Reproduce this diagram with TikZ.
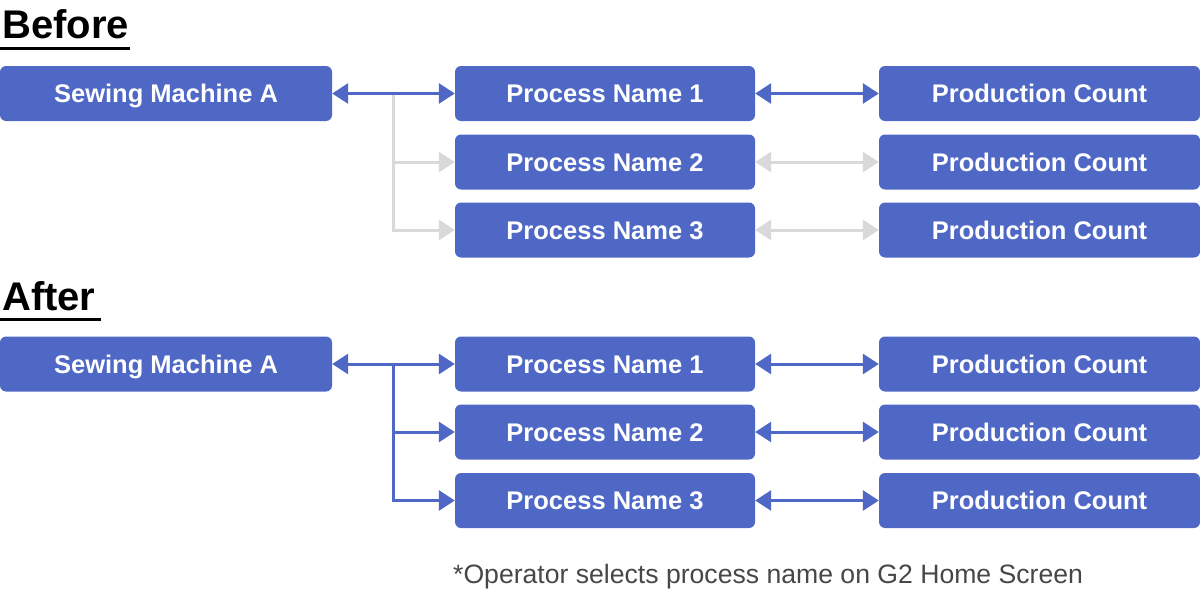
\documentclass[tikz,border=0pt]{standalone}
\usepackage{fontspec}
\setmainfont{Liberation Sans}
\usetikzlibrary{arrows.meta}
\definecolor{boxblue}{HTML}{4F68C5}
\definecolor{lightgray}{HTML}{D9D9D9}
\definecolor{notegray}{HTML}{474747}
\tikzset{
  box/.style={fill=boxblue, rounded corners=6pt, text=white, font=\fontsize{25.5}{30}\bfseries\selectfont, minimum height=55pt, inner sep=0pt, text height=18.3pt, text depth=0pt, anchor=center},
  sewbox/.style={box, minimum width=332pt},
  procbox/.style={box, minimum width=300pt},
  countbox/.style={box, minimum width=321pt},
  conn/.style={line width=3pt, draw=boxblue},
  connoff/.style={line width=3pt, draw=lightgray},
  tipboth/.style={{Triangle[length=16pt,width=20pt]}-{Triangle[length=16pt,width=20pt]}},
  tipend/.style={-{Triangle[length=16pt,width=20pt]}},
  title/.style={font=\fontsize{40}{44}\bfseries\selectfont, anchor=base west, inner sep=0pt},
}
\begin{document}
\begin{tikzpicture}[x=1pt,y=-1pt]
\useasboundingbox (0,0) rectangle (1200,589);
% Before
\node[title] (tb) at (2,38) {Before};
\draw[line width=3pt] (0,48) -- (130,48);
\node[sewbox] (s1) at (166,93.5) {Sewing Machine A};
\node[procbox] (b1) at (605,93.5) {Process Name 1};
\node[procbox] (b2) at (605,162) {Process Name 2};
\node[procbox] (b3) at (605,230) {Process Name 3};
\node[countbox] (c1) at (1039.5,93.5) {Production Count};
\node[countbox] (c2) at (1039.5,162) {Production Count};
\node[countbox] (c3) at (1039.5,230) {Production Count};
\coordinate (jb) at (393,93.5);
\draw[connoff, tipend] (jb) |- (b2.west);
\draw[connoff, tipend] (jb) |- (b3.west);
\draw[conn, tipboth] (s1.east) -- (b1.west);
\draw[conn, tipboth] (b1.east) -- (c1.west);
\draw[connoff, tipboth] (b2.east) -- (c2.west);
\draw[connoff, tipboth] (b3.east) -- (c3.west);
% After
\node[title] (ta) at (2,310) {After};
\draw[line width=3pt] (0,319) -- (101,319);
\node[sewbox] (s2) at (166,364) {Sewing Machine A};
\node[procbox] (a1) at (605,364) {Process Name 1};
\node[procbox] (a2) at (605,432) {Process Name 2};
\node[procbox] (a3) at (605,500.5) {Process Name 3};
\node[countbox] (d1) at (1039.5,364) {Production Count};
\node[countbox] (d2) at (1039.5,432) {Production Count};
\node[countbox] (d3) at (1039.5,500.5) {Production Count};
\coordinate (ja) at (393,364);
\draw[conn, tipend] (ja) |- (a2.west);
\draw[conn, tipend] (ja) |- (a3.west);
\draw[conn, tipboth] (s2.east) -- (a1.west);
\draw[conn, tipboth] (a1.east) -- (d1.west);
\draw[conn, tipboth] (a2.east) -- (d2.west);
\draw[conn, tipboth] (a3.east) -- (d3.west);
% note
\node[anchor=base west, inner sep=0pt, text=notegray, font=\fontsize{26.6}{30}\selectfont] (note) at (453,583) {*Operator selects process name on G2 Home Screen};
\end{tikzpicture}
\end{document}
